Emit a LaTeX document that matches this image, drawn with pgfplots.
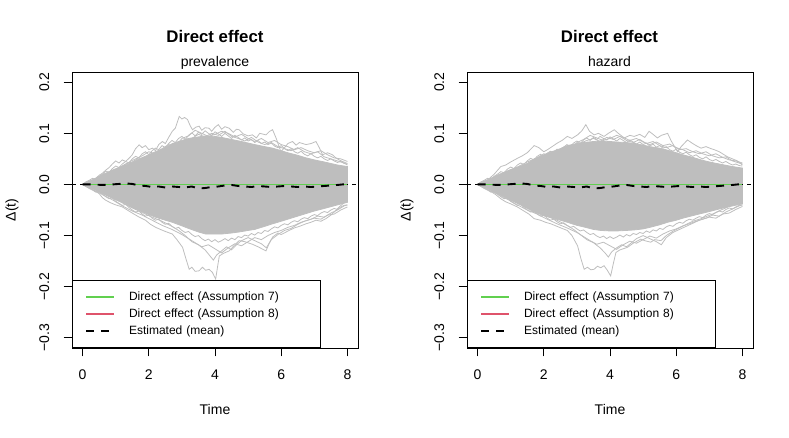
\documentclass[border=0pt]{standalone}
\usepackage{fontspec}
\setmainfont{Liberation Sans}
\usepackage{pgfplots}
\pgfplotsset{compat=1.18}
\definecolor{rgray}{HTML}{BEBEBE}
\definecolor{rgreen}{HTML}{61D04F}
\definecolor{rred}{HTML}{DF536B}
\pgfplotsset{
  rpanel/.style={
    scale only axis, width=286pt, height=276pt,
    xmin=-0.32, xmax=8.32, ymin=-0.32, ymax=0.22,
    axis line style={line width=0.9pt},
    xtick={0,2,4,6,8}, xticklabels={0,2,4,6,8},
    ytick={-0.3,-0.2,-0.1,0,0.1,0.2},
    yticklabels={−0.3,−0.2,−0.1,0.0,0.1,0.2},
    xtick pos=bottom, ytick pos=left,
    tick align=outside, major tick length=8.5pt,
    tick style={line width=0.9pt, black},
    tick label style={font=\fontsize{14}{16}\selectfont, inner sep=0pt},
    xticklabel style={anchor=north},
    yticklabel style={rotate=90, anchor=south},
    xticklabel shift=13.5pt, yticklabel shift=14pt,
    xlabel={Time}, ylabel={Δ(t)},
    label style={font=\fontsize{14}{16}\selectfont},
    xlabel style={at={(axis description cs:0.5,-0.2246)}, anchor=center},
    ylabel style={at={(axis description cs:-0.2098,0.5)}, anchor=center},
    legend style={at={(0,0)}, anchor=south west, draw=black, line width=0.9pt, fill=white,
      font=\fontsize{12}{14}\selectfont, inner xsep=13pt, inner ysep=8pt,
      row sep=0pt, column sep=13.7pt,
      nodes={inner sep=0pt, minimum height=17pt, text width=178pt, align=left}},
    legend cell align=left,
  },
  gl/.style={rgray, line width=0.8pt, forget plot},
  zl/.style={black, line width=0.7pt, dash pattern=on 4pt off 4pt, forget plot},
  ml/.style={black, line width=1.9pt, dash pattern=on 8pt off 7pt},
  greenline/.style={draw=rgreen, line width=1.1pt},
  redline/.style={draw=rred, line width=1.1pt},
  legG/.style={legend image code/.code={\draw[draw=rgreen, line width=1.4pt] (0pt,0pt) -- (28pt,0pt);}},
  legR/.style={legend image code/.code={\draw[draw=rred, line width=1.2pt] (0pt,0pt) -- (28pt,0pt);}},
  legM/.style={legend image code/.code={\draw[black, line width=1.9pt, dash pattern=on 8pt off 7pt] (0pt,0pt) -- (28pt,0pt);}},
}
\begin{document}
\begin{tikzpicture}
\path[use as bounding box] (0,0) rectangle (789pt,438pt);
% ---------------- left panel ----------------
\begin{axis}[rpanel, at={(72pt,90pt)}, anchor=south west]
\addplot[rgray, fill=rgray, line width=0.8pt, forget plot] coordinates {
(0,0) (0.1,0.004) (0.3,0.009) (0.5,0.016) (0.7,0.022) (1.0,0.030) (1.3,0.038) (1.5,0.043) (1.71,0.050) (2.0,0.058) (2.2,0.064) (2.5,0.072) (2.71,0.080) (3.0,0.086) (3.2,0.090) (3.5,0.093) (3.72,0.095) (4.0,0.094) (4.2,0.092) (4.5,0.088) (4.73,0.085) (5.0,0.081) (5.2,0.078) (5.5,0.074) (5.74,0.071) (6.0,0.066) (6.2,0.062) (6.5,0.057) (6.75,0.052) (7.0,0.048) (7.3,0.044) (7.7,0.038) (8.0,0.035)
(8.0,-0.035) (7.7,-0.040) (7.3,-0.047) (7.0,-0.052) (6.75,-0.057) (6.5,-0.062) (6.2,-0.068) (6.0,-0.072) (5.74,-0.077) (5.5,-0.082) (5.2,-0.088) (5.0,-0.090) (4.73,-0.093) (4.5,-0.095) (4.2,-0.097) (4.0,-0.097) (3.72,-0.097) (3.5,-0.093) (3.2,-0.086) (3.0,-0.081) (2.71,-0.074) (2.5,-0.070) (2.2,-0.064) (2.0,-0.059) (1.71,-0.051) (1.5,-0.045) (1.3,-0.038) (1.0,-0.030) (0.7,-0.021) (0.5,-0.015) (0.3,-0.008) (0.1,-0.004) (0,0)} -- cycle;
\addplot[gl] coordinates {(0,0) (0.15,0.004) (0.29,0.0085) (0.4,0.012) (0.5,0.018) (0.6,0.022) (0.7,0.028) (0.8,0.033) (0.9,0.040) (1.0,0.046) (1.1,0.042) (1.2,0.048) (1.3,0.045) (1.4,0.051) (1.5,0.058) (1.6,0.070) (1.71,0.0775) (1.8,0.072) (1.9,0.076) (2.0,0.068) (2.11,0.071) (2.2,0.066) (2.3,0.078) (2.41,0.084) (2.5,0.080) (2.6,0.092) (2.71,0.104) (2.8,0.110) (2.92,0.133) (3.0,0.128) (3.08,0.131) (3.17,0.127) (3.25,0.115) (3.32,0.107) (3.42,0.112) (3.52,0.114) (3.6,0.106) (3.7,0.111) (3.82,0.110) (3.9,0.104) (4.0,0.112) (4.1,0.117) (4.2,0.108) (4.3,0.113) (4.43,0.110) (4.55,0.102) (4.65,0.108) (4.73,0.107) (4.85,0.099) (5.0,0.095) (5.13,0.097) (5.25,0.091) (5.35,0.100) (5.54,0.097) (5.65,0.104) (5.74,0.107) (5.85,0.090) (5.99,0.064) (6.1,0.072) (6.2,0.080) (6.34,0.084) (6.45,0.077) (6.55,0.082) (6.75,0.078) (6.9,0.080) (7.05,0.084) (7.15,0.072) (7.25,0.058) (7.4,0.062) (7.55,0.058) (7.65,0.052) (7.75,0.048) (7.85,0.045) (8.0,0.041)};
\addplot[gl] coordinates {(0,0) (0.3,0.006) (0.5,0.012) (0.7,0.020) (0.9,0.026) (1.1,0.032) (1.3,0.040) (1.5,0.044) (1.7,0.052) (1.9,0.049) (2.1,0.058) (2.3,0.062) (2.5,0.070) (2.7,0.066) (2.9,0.078) (3.1,0.085) (3.3,0.090) (3.5,0.098) (3.7,0.093) (3.9,0.100) (4.1,0.096) (4.3,0.104) (4.5,0.094) (4.7,0.090) (4.9,0.085) (5.1,0.092) (5.3,0.083) (5.5,0.078) (5.7,0.082) (5.9,0.074) (6.1,0.070) (6.3,0.066) (6.5,0.072) (6.7,0.064) (6.9,0.060) (7.1,0.064) (7.3,0.054) (7.5,0.050) (7.7,0.046) (7.9,0.042) (8.0,0.038)};
\addplot[gl] coordinates {(0,0) (0.1,0.005) (0.2,0.008) (0.3,0.012) (0.4,0.010) (0.5,0.016) (0.6,0.020) (0.7,0.026) (0.8,0.024) (0.9,0.031) (1.0,0.036) (1.1,0.033) (1.2,0.040) (1.3,0.045) (1.4,0.042) (1.5,0.050) (1.6,0.055) (1.7,0.052) (1.8,0.060) (1.9,0.064) (2.0,0.058) (2.1,0.066) (2.2,0.071) (2.3,0.068) (2.4,0.076) (2.5,0.072) (2.6,0.080) (2.7,0.086) (2.8,0.082) (2.9,0.090) (3.0,0.094) (3.1,0.088) (3.2,0.096) (3.3,0.101) (3.4,0.095) (3.5,0.102) (3.6,0.098) (3.7,0.105) (3.8,0.100) (3.9,0.096) (4.0,0.103) (4.1,0.099) (4.2,0.094) (4.3,0.100) (4.4,0.095) (4.5,0.090) (4.6,0.096) (4.7,0.092) (4.8,0.087) (4.9,0.091) (5.0,0.085) (5.1,0.088) (5.2,0.082) (5.3,0.086) (5.4,0.080) (5.5,0.083) (5.6,0.078) (5.7,0.081) (5.8,0.075) (5.9,0.072) (6.0,0.076) (6.1,0.070) (6.2,0.066) (6.3,0.070) (6.4,0.064) (6.5,0.061) (6.6,0.065) (6.7,0.059) (6.8,0.056) (6.9,0.060) (7.0,0.055) (7.1,0.052) (7.2,0.055) (7.3,0.050) (7.4,0.047) (7.5,0.050) (7.6,0.046) (7.7,0.043) (7.8,0.045) (7.9,0.041) (8.0,0.040)};
\addplot[gl] coordinates {(0,0) (0.3,0.008) (0.6,0.018) (0.9,0.028) (1.2,0.036) (1.5,0.047) (1.8,0.056) (2.0,0.064) (2.2,0.060) (2.4,0.070) (2.6,0.078) (2.8,0.074) (3.0,0.090) (3.2,0.095) (3.4,0.106) (3.6,0.100) (3.8,0.094) (4.0,0.098) (4.2,0.104) (4.4,0.100) (4.6,0.093) (4.8,0.098) (5.0,0.090) (5.2,0.084) (5.4,0.090) (5.6,0.082) (5.8,0.086) (6.0,0.078) (6.2,0.074) (6.4,0.068) (6.6,0.072) (6.8,0.066) (7.0,0.062) (7.2,0.066) (7.4,0.058) (7.6,0.052) (7.8,0.050) (8.0,0.045)};
\addplot[gl] coordinates {(0,0) (0.2,-0.006) (0.35,-0.012) (0.5,-0.018) (0.6,-0.026) (0.7,-0.031) (0.85,-0.036) (1.0,-0.040) (1.2,-0.044) (1.35,-0.050) (1.5,-0.056) (1.71,-0.064) (1.9,-0.070) (2.05,-0.078) (2.21,-0.084) (2.35,-0.088) (2.5,-0.092) (2.71,-0.097) (2.85,-0.108) (3.02,-0.123) (3.12,-0.145) (3.22,-0.166) (3.3,-0.162) (3.4,-0.170) (3.52,-0.169) (3.62,-0.162) (3.72,-0.168) (3.82,-0.166) (3.92,-0.172) (4.02,-0.185) (4.08,-0.160) (4.13,-0.140) (4.25,-0.135) (4.43,-0.130) (4.6,-0.118) (4.73,-0.110) (4.9,-0.112) (5.13,-0.117) (5.3,-0.122) (5.54,-0.130) (5.64,-0.115) (5.74,-0.103) (5.9,-0.095) (6.0,-0.098) (6.24,-0.090) (6.4,-0.085) (6.55,-0.082) (6.75,-0.077) (6.9,-0.074) (7.05,-0.070) (7.2,-0.072) (7.35,-0.067) (7.5,-0.060) (7.6,-0.054) (7.75,-0.044) (7.9,-0.036) (8.0,-0.031)};
\addplot[gl] coordinates {(0,0) (0.3,-0.008) (0.6,-0.016) (0.9,-0.026) (1.2,-0.036) (1.5,-0.046) (1.8,-0.055) (2.1,-0.064) (2.4,-0.072) (2.7,-0.082) (2.9,-0.090) (3.1,-0.100) (3.3,-0.112) (3.5,-0.118) (3.7,-0.128) (3.85,-0.140) (3.95,-0.148) (4.05,-0.138) (4.2,-0.130) (4.35,-0.122) (4.5,-0.128) (4.65,-0.118) (4.8,-0.110) (5.0,-0.104) (5.2,-0.110) (5.4,-0.116) (5.55,-0.124) (5.7,-0.108) (5.9,-0.098) (6.1,-0.090) (6.3,-0.086) (6.5,-0.078) (6.7,-0.072) (6.9,-0.068) (7.1,-0.062) (7.3,-0.064) (7.5,-0.056) (7.7,-0.050) (7.9,-0.042) (8.0,-0.040)};
\addplot[gl] coordinates {(0,0) (0.1,-0.004) (0.2,-0.008) (0.3,-0.011) (0.4,-0.015) (0.5,-0.013) (0.6,-0.019) (0.7,-0.024) (0.8,-0.028) (0.9,-0.026) (1.0,-0.033) (1.1,-0.037) (1.2,-0.041) (1.3,-0.039) (1.4,-0.045) (1.5,-0.050) (1.6,-0.054) (1.7,-0.052) (1.8,-0.058) (1.9,-0.062) (2.0,-0.060) (2.1,-0.066) (2.2,-0.070) (2.3,-0.068) (2.4,-0.074) (2.5,-0.078) (2.6,-0.076) (2.7,-0.082) (2.8,-0.086) (2.9,-0.084) (3.0,-0.090) (3.1,-0.094) (3.2,-0.092) (3.3,-0.098) (3.4,-0.102) (3.5,-0.100) (3.6,-0.106) (3.7,-0.110) (3.8,-0.107) (3.9,-0.112) (4.0,-0.108) (4.1,-0.113) (4.2,-0.110) (4.3,-0.106) (4.4,-0.110) (4.5,-0.105) (4.6,-0.108) (4.7,-0.102) (4.8,-0.104) (4.9,-0.099) (5.0,-0.101) (5.1,-0.096) (5.2,-0.099) (5.3,-0.094) (5.4,-0.096) (5.5,-0.090) (5.6,-0.092) (5.7,-0.087) (5.8,-0.083) (5.9,-0.085) (6.0,-0.080) (6.1,-0.077) (6.2,-0.079) (6.3,-0.074) (6.4,-0.071) (6.5,-0.073) (6.6,-0.068) (6.7,-0.065) (6.8,-0.067) (6.9,-0.062) (7.0,-0.059) (7.1,-0.061) (7.2,-0.056) (7.3,-0.053) (7.4,-0.055) (7.5,-0.050) (7.6,-0.047) (7.7,-0.049) (7.8,-0.044) (7.9,-0.041) (8.0,-0.040)};
\addplot[gl] coordinates {(0,0) (0.3,-0.010) (0.6,-0.020) (0.9,-0.030) (1.2,-0.042) (1.5,-0.052) (1.8,-0.060) (2.1,-0.070) (2.4,-0.080) (2.7,-0.088) (3.0,-0.098) (3.2,-0.106) (3.4,-0.114) (3.6,-0.122) (3.8,-0.118) (4.0,-0.126) (4.2,-0.134) (4.4,-0.124) (4.6,-0.116) (4.8,-0.120) (5.0,-0.112) (5.2,-0.104) (5.4,-0.108) (5.6,-0.100) (5.8,-0.094) (6.0,-0.090) (6.2,-0.084) (6.4,-0.080) (6.6,-0.074) (6.8,-0.070) (7.0,-0.066) (7.2,-0.068) (7.4,-0.060) (7.6,-0.058) (7.8,-0.050) (8.0,-0.044)};
\addplot[zl] coordinates {(-0.32,0) (8.32,0)};
\addplot[redline, forget plot] coordinates {(0,0) (8,0)};
\addplot[greenline, forget plot] coordinates {(0,0) (8,0)};
\addplot[ml, forget plot] coordinates {(0,0) (0.3,0) (0.6,-0.001) (0.9,0.0) (1.1,0.001) (1.3,0.002) (1.5,0.001) (1.7,-0.002) (1.9,-0.003) (2.1,-0.005) (2.3,-0.004) (2.5,-0.006) (2.7,-0.004) (2.9,-0.005) (3.1,-0.006) (3.3,-0.004) (3.5,-0.008) (3.7,-0.007) (3.9,-0.005) (4.1,-0.004) (4.3,-0.002) (4.5,-0.001) (4.7,-0.003) (4.9,-0.004) (5.1,-0.005) (5.3,-0.003) (5.5,-0.004) (5.7,-0.005) (5.9,-0.004) (6.1,-0.003) (6.3,-0.004) (6.5,-0.005) (6.7,-0.004) (6.9,-0.005) (7.1,-0.004) (7.3,-0.003) (7.5,-0.002) (7.7,-0.001) (8.0,0.001)};
\addlegendimage{legG}
\addlegendentry{Direct effect (Assumption 7)}
\addlegendimage{legR}
\addlegendentry{Direct effect (Assumption 8)}
\addlegendimage{legM}
\addlegendentry{Estimated (mean)}
\end{axis}
\node[anchor=base, font=\fontsize{16.8}{18}\selectfont\bfseries] at (215pt,395.7pt) {Direct effect};
\node[anchor=base, font=\fontsize{14}{16}\selectfont] at (215pt,371.3pt) {prevalence};
% ---------------- right panel ----------------
\begin{axis}[rpanel, at={(467pt,90pt)}, anchor=south west]
\addplot[rgray, fill=rgray, line width=0.8pt, forget plot] coordinates {
(0,0) (0.1,0.004) (0.3,0.009) (0.5,0.015) (0.7,0.021) (1.0,0.029) (1.3,0.036) (1.5,0.041) (1.71,0.050) (2.0,0.058) (2.2,0.063) (2.5,0.070) (2.71,0.076) (3.0,0.080) (3.2,0.082) (3.5,0.084) (3.72,0.085) (4.0,0.084) (4.2,0.083) (4.5,0.082) (4.73,0.080) (5.0,0.077) (5.2,0.074) (5.5,0.071) (5.74,0.067) (6.0,0.062) (6.2,0.058) (6.5,0.053) (6.75,0.048) (7.0,0.044) (7.3,0.040) (7.7,0.035) (8.0,0.032)
(8.0,-0.038) (7.7,-0.042) (7.3,-0.048) (7.0,-0.053) (6.75,-0.057) (6.5,-0.061) (6.2,-0.066) (6.0,-0.070) (5.74,-0.074) (5.5,-0.079) (5.2,-0.084) (5.0,-0.087) (4.73,-0.089) (4.5,-0.090) (4.2,-0.091) (4.0,-0.091) (3.72,-0.090) (3.5,-0.088) (3.2,-0.083) (3.0,-0.080) (2.71,-0.074) (2.5,-0.070) (2.2,-0.065) (2.0,-0.061) (1.71,-0.054) (1.5,-0.047) (1.3,-0.040) (1.0,-0.031) (0.7,-0.021) (0.5,-0.015) (0.3,-0.008) (0.1,-0.004) (0,0)} -- cycle;
\addplot[gl] coordinates {(0,0) (0.15,0.004) (0.29,0.008) (0.5,0.020) (0.7,0.035) (0.85,0.038) (1.0,0.044) (1.2,0.051) (1.35,0.056) (1.5,0.062) (1.71,0.076) (1.85,0.072) (2.0,0.064) (2.11,0.068) (2.25,0.074) (2.41,0.081) (2.55,0.086) (2.71,0.094) (2.85,0.090) (3.02,0.097) (3.15,0.105) (3.27,0.117) (3.38,0.104) (3.52,0.097) (3.65,0.100) (3.82,0.094) (3.95,0.100) (4.13,0.107) (4.25,0.100) (4.43,0.091) (4.6,0.096) (4.73,0.094) (4.9,0.098) (5.05,0.092) (5.18,0.104) (5.3,0.098) (5.43,0.091) (5.55,0.096) (5.74,0.100) (5.85,0.085) (6.04,0.064) (6.15,0.074) (6.34,0.087) (6.5,0.080) (6.6,0.076) (6.75,0.071) (6.9,0.074) (7.05,0.070) (7.15,0.068) (7.3,0.064) (7.45,0.058) (7.55,0.054) (7.7,0.050) (7.85,0.046) (8.0,0.038)};
\addplot[gl] coordinates {(0,0) (0.3,0.006) (0.6,0.014) (0.9,0.024) (1.2,0.032) (1.5,0.040) (1.8,0.050) (2.1,0.055) (2.4,0.064) (2.7,0.070) (3.0,0.078) (3.3,0.086) (3.5,0.090) (3.7,0.084) (3.9,0.092) (4.1,0.088) (4.3,0.094) (4.5,0.086) (4.7,0.082) (4.9,0.088) (5.1,0.080) (5.3,0.084) (5.5,0.076) (5.7,0.072) (5.9,0.076) (6.1,0.068) (6.3,0.070) (6.5,0.064) (6.7,0.060) (6.9,0.064) (7.1,0.056) (7.3,0.052) (7.5,0.054) (7.7,0.046) (7.9,0.042) (8.0,0.040)};
\addplot[gl] coordinates {(0,0) (0.1,0.005) (0.2,0.008) (0.3,0.012) (0.4,0.010) (0.5,0.016) (0.6,0.020) (0.7,0.025) (0.8,0.023) (0.9,0.030) (1.0,0.034) (1.1,0.031) (1.2,0.038) (1.3,0.042) (1.4,0.039) (1.5,0.046) (1.6,0.051) (1.7,0.048) (1.8,0.055) (1.9,0.059) (2.0,0.054) (2.1,0.061) (2.2,0.065) (2.3,0.062) (2.4,0.069) (2.5,0.066) (2.6,0.073) (2.7,0.078) (2.8,0.074) (2.9,0.081) (3.0,0.085) (3.1,0.080) (3.2,0.087) (3.3,0.091) (3.4,0.086) (3.5,0.092) (3.6,0.088) (3.7,0.094) (3.8,0.090) (3.9,0.087) (4.0,0.093) (4.1,0.089) (4.2,0.085) (4.3,0.090) (4.4,0.086) (4.5,0.082) (4.6,0.087) (4.7,0.083) (4.8,0.079) (4.9,0.083) (5.0,0.078) (5.1,0.081) (5.2,0.075) (5.3,0.079) (5.4,0.073) (5.5,0.076) (5.6,0.071) (5.7,0.074) (5.8,0.068) (5.9,0.065) (6.0,0.069) (6.1,0.063) (6.2,0.060) (6.3,0.063) (6.4,0.058) (6.5,0.055) (6.6,0.058) (6.7,0.053) (6.8,0.050) (6.9,0.054) (7.0,0.049) (7.1,0.046) (7.2,0.049) (7.3,0.045) (7.4,0.042) (7.5,0.045) (7.6,0.041) (7.7,0.038) (7.8,0.040) (7.9,0.037) (8.0,0.036)};
\addplot[gl] coordinates {(0,0) (0.3,0.008) (0.6,0.017) (0.9,0.026) (1.2,0.034) (1.5,0.044) (1.8,0.052) (2.0,0.060) (2.2,0.057) (2.4,0.066) (2.6,0.073) (2.8,0.070) (3.0,0.082) (3.2,0.088) (3.4,0.096) (3.6,0.091) (3.8,0.086) (4.0,0.090) (4.2,0.096) (4.4,0.092) (4.6,0.086) (4.8,0.090) (5.0,0.083) (5.2,0.078) (5.4,0.083) (5.6,0.076) (5.8,0.079) (6.0,0.072) (6.2,0.068) (6.4,0.062) (6.6,0.066) (6.8,0.060) (7.0,0.056) (7.2,0.060) (7.4,0.053) (7.6,0.048) (7.8,0.046) (8.0,0.042)};
\addplot[gl] coordinates {(0,0) (0.2,-0.006) (0.4,-0.014) (0.55,-0.020) (0.7,-0.028) (0.85,-0.034) (1.0,-0.038) (1.2,-0.044) (1.4,-0.052) (1.55,-0.058) (1.71,-0.067) (1.9,-0.070) (2.05,-0.074) (2.21,-0.077) (2.4,-0.082) (2.55,-0.086) (2.71,-0.090) (2.85,-0.100) (3.02,-0.120) (3.12,-0.145) (3.22,-0.166) (3.32,-0.162) (3.42,-0.167) (3.52,-0.166) (3.62,-0.160) (3.72,-0.163) (3.82,-0.159) (3.92,-0.168) (4.02,-0.179) (4.1,-0.155) (4.18,-0.133) (4.3,-0.128) (4.53,-0.123) (4.7,-0.115) (4.93,-0.107) (5.05,-0.110) (5.23,-0.113) (5.35,-0.108) (5.54,-0.110) (5.7,-0.100) (5.94,-0.090) (6.1,-0.085) (6.34,-0.077) (6.5,-0.072) (6.75,-0.067) (6.9,-0.063) (7.1,-0.058) (7.35,-0.050) (7.5,-0.046) (7.75,-0.037) (7.9,-0.034) (8.0,-0.031)};
\addplot[gl] coordinates {(0,0) (0.3,-0.008) (0.6,-0.016) (0.9,-0.025) (1.2,-0.034) (1.5,-0.044) (1.8,-0.053) (2.1,-0.062) (2.4,-0.070) (2.7,-0.080) (2.9,-0.088) (3.1,-0.098) (3.3,-0.108) (3.5,-0.114) (3.7,-0.124) (3.85,-0.134) (3.95,-0.142) (4.05,-0.132) (4.2,-0.124) (4.35,-0.118) (4.5,-0.122) (4.65,-0.114) (4.8,-0.106) (5.0,-0.100) (5.2,-0.106) (5.4,-0.112) (5.55,-0.118) (5.7,-0.104) (5.9,-0.094) (6.1,-0.088) (6.3,-0.082) (6.5,-0.076) (6.7,-0.070) (6.9,-0.066) (7.1,-0.060) (7.3,-0.062) (7.5,-0.054) (7.7,-0.048) (7.9,-0.042) (8.0,-0.040)};
\addplot[gl] coordinates {(0,0) (0.1,-0.004) (0.2,-0.008) (0.3,-0.011) (0.4,-0.015) (0.5,-0.013) (0.6,-0.019) (0.7,-0.024) (0.8,-0.028) (0.9,-0.026) (1.0,-0.033) (1.1,-0.037) (1.2,-0.041) (1.3,-0.039) (1.4,-0.045) (1.5,-0.050) (1.6,-0.054) (1.7,-0.052) (1.8,-0.058) (1.9,-0.062) (2.0,-0.060) (2.1,-0.066) (2.2,-0.070) (2.3,-0.068) (2.4,-0.073) (2.5,-0.077) (2.6,-0.075) (2.7,-0.080) (2.8,-0.084) (2.9,-0.082) (3.0,-0.087) (3.1,-0.091) (3.2,-0.089) (3.3,-0.094) (3.4,-0.098) (3.5,-0.096) (3.6,-0.101) (3.7,-0.104) (3.8,-0.101) (3.9,-0.106) (4.0,-0.102) (4.1,-0.106) (4.2,-0.103) (4.3,-0.099) (4.4,-0.103) (4.5,-0.098) (4.6,-0.101) (4.7,-0.096) (4.8,-0.098) (4.9,-0.094) (5.0,-0.096) (5.1,-0.091) (5.2,-0.094) (5.3,-0.089) (5.4,-0.091) (5.5,-0.086) (5.6,-0.088) (5.7,-0.083) (5.8,-0.080) (5.9,-0.082) (6.0,-0.077) (6.1,-0.074) (6.2,-0.076) (6.3,-0.071) (6.4,-0.068) (6.5,-0.070) (6.6,-0.066) (6.7,-0.063) (6.8,-0.065) (6.9,-0.060) (7.0,-0.057) (7.1,-0.059) (7.2,-0.055) (7.3,-0.052) (7.4,-0.054) (7.5,-0.049) (7.6,-0.046) (7.7,-0.048) (7.8,-0.044) (7.9,-0.041) (8.0,-0.040)};
\addplot[gl] coordinates {(0,0) (0.3,-0.010) (0.6,-0.019) (0.9,-0.029) (1.2,-0.040) (1.5,-0.050) (1.8,-0.058) (2.1,-0.068) (2.4,-0.077) (2.7,-0.085) (3.0,-0.094) (3.2,-0.102) (3.4,-0.110) (3.6,-0.117) (3.8,-0.113) (4.0,-0.120) (4.2,-0.127) (4.4,-0.118) (4.6,-0.111) (4.8,-0.115) (5.0,-0.108) (5.2,-0.101) (5.4,-0.105) (5.6,-0.097) (5.8,-0.091) (6.0,-0.087) (6.2,-0.081) (6.4,-0.077) (6.6,-0.072) (6.8,-0.068) (7.0,-0.064) (7.2,-0.066) (7.4,-0.058) (7.6,-0.056) (7.8,-0.049) (8.0,-0.043)};
\addplot[zl] coordinates {(-0.32,0) (8.32,0)};
\addplot[redline, forget plot] coordinates {(0,0) (8,0)};
\addplot[greenline, forget plot] coordinates {(0,0) (8,0)};
\addplot[ml, forget plot] coordinates {(0,0) (0.3,0) (0.6,-0.001) (0.9,0.0) (1.1,0.001) (1.3,0.002) (1.5,0.001) (1.7,-0.002) (1.9,-0.003) (2.1,-0.005) (2.3,-0.004) (2.5,-0.006) (2.7,-0.004) (2.9,-0.005) (3.1,-0.006) (3.3,-0.004) (3.5,-0.008) (3.7,-0.007) (3.9,-0.005) (4.1,-0.004) (4.3,-0.002) (4.5,-0.001) (4.7,-0.003) (4.9,-0.004) (5.1,-0.005) (5.3,-0.003) (5.5,-0.004) (5.7,-0.005) (5.9,-0.004) (6.1,-0.003) (6.3,-0.004) (6.5,-0.005) (6.7,-0.004) (6.9,-0.005) (7.1,-0.004) (7.3,-0.003) (7.5,-0.002) (7.7,-0.001) (8.0,0.001)};
\addlegendimage{legG}
\addlegendentry{Direct effect (Assumption 7)}
\addlegendimage{legR}
\addlegendentry{Direct effect (Assumption 8)}
\addlegendimage{legM}
\addlegendentry{Estimated (mean)}
\end{axis}
\node[anchor=base, font=\fontsize{16.8}{18}\selectfont\bfseries] at (609.5pt,395.7pt) {Direct effect};
\node[anchor=base, font=\fontsize{14}{16}\selectfont] at (609.5pt,371.3pt) {hazard};
\end{tikzpicture}
\end{document}
